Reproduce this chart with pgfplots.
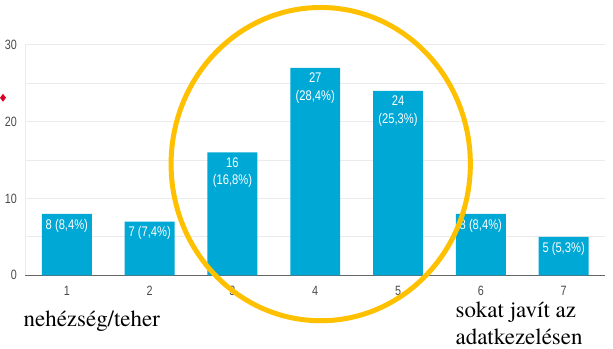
\documentclass[border=0pt]{standalone}
\usepackage{pgfplots}
\pgfplotsset{compat=1.18}
\usepackage{fontspec}
\setmainfont{Liberation Sans}
\newfontfamily\termes{TeX Gyre Termes}
\newfontfamily\narrow[FakeStretch=0.8]{Liberation Sans}
\definecolor{barblue}{HTML}{00A8D6}
\definecolor{ringgold}{HTML}{FFC000}
\definecolor{gridgray}{HTML}{EBEBEB}
\definecolor{ticktext}{HTML}{4A4A4A}
\begin{document}
\begin{tikzpicture}[x=1pt,y=1pt]
\path (0,0) rectangle (613,349);
\begin{axis}[
  at={(24pt,73pt)}, anchor=south west,
  scale only axis, width=581pt, height=231pt,
  xmin=0.5, xmax=7.5, ymin=0, ymax=30,
  xtick={1,2,3,4,5,6,7},
  ytick={0,10,20,30}, minor ytick={5,15,25},
  ymajorgrids, yminorgrids,
  major grid style={gridgray, line width=1pt},
  minor grid style={gridgray, line width=1pt},
  major tick length=0pt, minor tick length=0pt,
  axis x line*=bottom, axis y line*=left,
  x axis line style={draw=gray!80!black, line width=1.3pt, -},
  y axis line style={draw=gridgray, line width=1pt, -},
  ticklabel style={font=\narrow\fontsize{13.5}{15}\selectfont, text=ticktext},
  /pgf/number format/assume math mode=true,
  yticklabel style={xshift=-5pt},
  xticklabel style={yshift=-7pt},
  clip=false,
]
\addplot[ybar, bar width=50pt, fill=barblue, draw=none,
  point meta=explicit symbolic,
  nodes near coords,
  nodes near coords style={anchor=north, text=white, align=center,
     font=\narrow\fontsize{14}{17.5}\selectfont, inner xsep=2pt, inner ysep=5pt}]
coordinates {
 (1,8) [8 (8,4\%)]
 (2,7) [7 (7,4\%)]
 (3,16) [16\\(16,8\%)]
 (4,27) [27\\(28,4\%)]
 (5,24) [24\\(25,3\%)]
 (6,8) [8 (8,4\%)]
 (7,5) [5 (5,3\%)]
};
\end{axis}
\draw[ringgold, line width=5pt] (320,184.5) ellipse [x radius=150, y radius=157];
\fill[red!85!blue] (1.5,255) -- (4.5,251) -- (1.5,247) -- (-1.5,251) -- cycle;
\node[anchor=base west, inner sep=0pt] at (22,22) {\termes\fontsize{23}{27}\selectfont nehézség/teher};
\node[anchor=base west, inner sep=0pt] at (455,31) {\termes\fontsize{23}{27}\selectfont sokat javít az};
\node[anchor=base west, inner sep=0pt] at (455,4) {\termes\fontsize{23}{27}\selectfont adatkezelésen};
\end{tikzpicture}
\end{document}
